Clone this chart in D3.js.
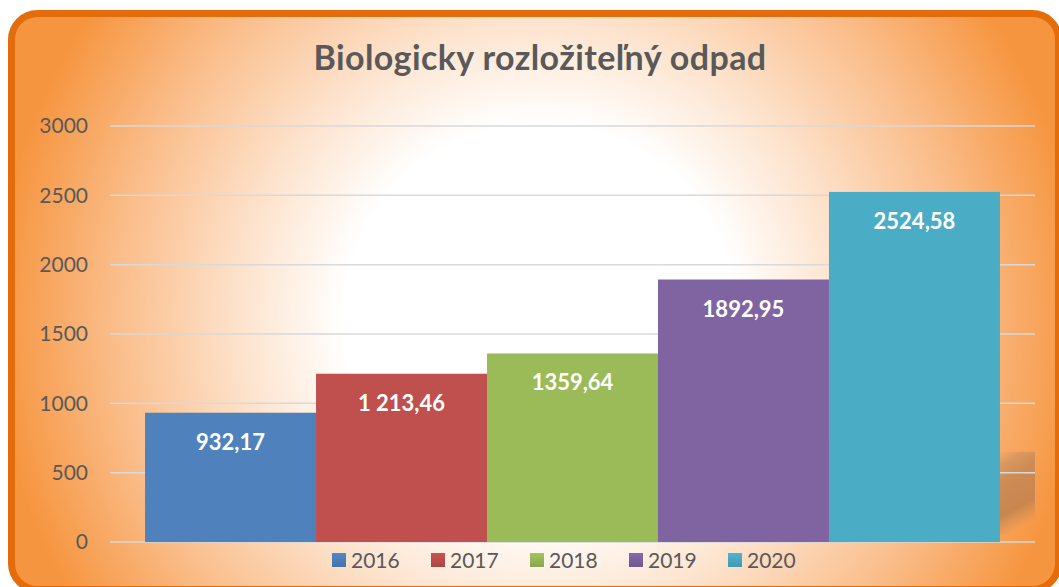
<!DOCTYPE html>
<html>
<head>
<meta charset="utf-8">
<script src="https://cdn.jsdelivr.net/npm/d3@7"></script>
<style>
  body { margin: 0; background: #fff; }
  svg { display: block; font-family: Lato, "Open Sans", sans-serif; }
</style>
</head>
<body>
<svg id="mysvg" width="1059" height="587"></svg>
<script>
var years = ["2016", "2017", "2018", "2019", "2020"];
var values = [932.17, 1213.46, 1359.64, 1892.95, 2524.58];
var valueLabels = ["932,17", "1 213,46", "1359,64", "1892,95", "2524,58"];
var colors = ["#4F81BD", "#C0504D", "#9BBB59", "#8064A2", "#4BACC6"];
var yTicks = [0, 500, 1000, 1500, 2000, 2500, 3000];

var svg = d3.select("#mysvg");
var defs = svg.append("defs");

var bg = defs.append("radialGradient").attr("id", "bg")
  .attr("gradientUnits", "userSpaceOnUse")
  .attr("cx", 540).attr("cy", 320).attr("r", 545);
bg.append("stop").attr("offset", "0").attr("stop-color", "#ffffff");
bg.append("stop").attr("offset", "0.36").attr("stop-color", "#ffffff");
bg.append("stop").attr("offset", "0.55").attr("stop-color", "#fde3cd");
bg.append("stop").attr("offset", "0.78").attr("stop-color", "#fabd8a");
bg.append("stop").attr("offset", "1").attr("stop-color", "#f6953f");

var shade = defs.append("linearGradient").attr("id", "shade")
  .attr("x1", 0).attr("y1", 0).attr("x2", 0.25).attr("y2", 1);
shade.append("stop").attr("offset", "0").attr("stop-color", "#d99a62").attr("stop-opacity", 0);
shade.append("stop").attr("offset", "0.15").attr("stop-color", "#cf9360").attr("stop-opacity", 0.7);
shade.append("stop").attr("offset", "0.35").attr("stop-color", "#c98a55").attr("stop-opacity", 0.9);
shade.append("stop").attr("offset", "0.75").attr("stop-color", "#c4834d").attr("stop-opacity", 0.9);
shade.append("stop").attr("offset", "1").attr("stop-color", "#c98a55").attr("stop-opacity", 0);

// legend square gradients
colors.forEach(function(c, i){
  var g = defs.append("linearGradient").attr("id", "lg" + i)
    .attr("x1", 0).attr("y1", 0).attr("x2", 0).attr("y2", 1);
  g.append("stop").attr("offset", "0").attr("stop-color", d3.color(c).brighter(0.15));
  g.append("stop").attr("offset", "1").attr("stop-color", d3.color(c).darker(0.35));
});

// frame
svg.append("rect")
  .attr("x", 11.5).attr("y", 13.5)
  .attr("width", 1047).attr("height", 576)
  .attr("rx", 26).attr("ry", 26)
  .attr("fill", "url(#bg)")
  .attr("stroke", "#E46C0A").attr("stroke-width", 7);

// title
svg.append("text")
  .attr("x", 540).attr("y", 70)
  .attr("text-anchor", "middle")
  .attr("font-size", 34).attr("font-weight", "bold")
  .attr("letter-spacing", 0.4)
  .attr("fill", "#595959")
  .text("Biologicky rozložiteľný odpad");

var x = d3.scaleBand().domain(years).range([110, 1035]).paddingInner(0).paddingOuter(0.205);
var y = d3.scaleLinear().domain([0, 3000]).range([542, 126]);

// odd shadow patch on the right
svg.append("rect")
  .attr("x", x.range()[1] - 36).attr("y", y(650))
  .attr("width", 36).attr("height", y(50) - y(650))
  .attr("fill", "url(#shade)");

// gridlines
svg.append("g").selectAll("line").data(yTicks).enter().append("line")
  .attr("x1", 110).attr("x2", 1035)
  .attr("y1", function(d){ return y(d); })
  .attr("y2", function(d){ return y(d); })
  .attr("stroke", "#d9d9d9").attr("stroke-width", 1.5);

// y axis labels
var yAxis = d3.axisLeft(y).tickValues(yTicks).tickFormat(d3.format("d")).tickSize(0).tickPadding(0);
var ya = svg.append("g").attr("transform", "translate(88,0)").call(yAxis);
ya.select(".domain").remove();
ya.selectAll("text")
  .attr("font-family", "Lato, 'Open Sans', sans-serif")
  .attr("font-size", 21).attr("fill", "#595959");

// bars
svg.append("g").selectAll("rect").data(values).enter().append("rect")
  .attr("x", function(d, i){ return x(years[i]); })
  .attr("y", function(d){ return y(d); })
  .attr("width", x.bandwidth())
  .attr("height", function(d){ return y(0) - y(d); })
  .attr("fill", function(d, i){ return colors[i]; });

// value labels
svg.append("g").selectAll("text").data(values).enter().append("text")
  .attr("x", function(d, i){ return x(years[i]) + x.bandwidth() / 2; })
  .attr("y", function(d){ return y(d) + 37; })
  .attr("text-anchor", "middle")
  .attr("font-size", 22).attr("font-weight", "bold")
  .attr("fill", "#ffffff")
  .text(function(d, i){ return valueLabels[i]; });

// legend
var leg = svg.append("g").selectAll("g").data(years).enter().append("g")
  .attr("transform", function(d, i){ return "translate(" + (332 + i * 99) + ",553)"; });
leg.append("rect")
  .attr("width", 14).attr("height", 14)
  .attr("fill", function(d, i){ return "url(#lg" + i + ")"; });
leg.append("text")
  .attr("x", 19).attr("y", 14.5)
  .attr("font-size", 21).attr("fill", "#595959")
  .text(function(d){ return d; });
</script>
</body>
</html>
